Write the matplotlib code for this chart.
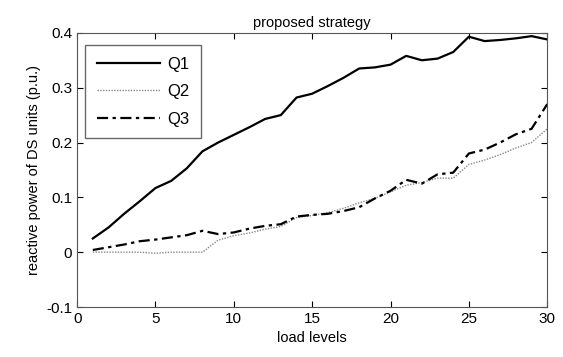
import matplotlib
matplotlib.use("Agg")
import matplotlib.pyplot as plt

plt.rcParams["font.family"] = ["Liberation Sans", "DejaVu Sans"]

load_levels = list(range(1, 31))
q1 = [0.025, 0.045, 0.070, 0.093, 0.117, 0.130, 0.153, 0.184, 0.200, 0.214,
      0.228, 0.243, 0.250, 0.282, 0.289, 0.303, 0.318, 0.335, 0.337, 0.342,
      0.358, 0.350, 0.353, 0.365, 0.393, 0.385, 0.387, 0.390, 0.394, 0.388]
q2 = [0.000, 0.000, 0.000, 0.000, -0.002, 0.000, 0.000, 0.000, 0.022, 0.030,
      0.035, 0.042, 0.047, 0.063, 0.067, 0.072, 0.080, 0.090, 0.098, 0.110,
      0.122, 0.127, 0.135, 0.135, 0.160, 0.168, 0.178, 0.190, 0.200, 0.225]
q3 = [0.004, 0.009, 0.014, 0.020, 0.023, 0.027, 0.031, 0.039, 0.033, 0.036,
      0.043, 0.048, 0.051, 0.065, 0.068, 0.070, 0.075, 0.082, 0.098, 0.112,
      0.132, 0.125, 0.142, 0.145, 0.180, 0.187, 0.200, 0.215, 0.225, 0.270]

fig = plt.figure(figsize=(5.63, 3.57), dpi=100)
ax = fig.add_axes([0.137, 0.14, 0.835, 0.768])

ax.plot(load_levels, q1, color="black", lw=1.6, label="Q1")
ax.plot(load_levels, q2, color="#888888", lw=1.0, linestyle=(0, (1, 1)), label="Q2")
ax.plot(load_levels, q3, color="black", lw=1.6, linestyle=(0, (5, 2, 1.5, 2)), label="Q3")

ax.set_xlim(0, 30)
ax.set_ylim(-0.1, 0.4)
ax.set_xticks([0, 5, 10, 15, 20, 25, 30])
ax.set_yticks([-0.1, 0, 0.1, 0.2, 0.3, 0.4])
ax.set_yticklabels(["-0.1", "0", "0.1", "0.2", "0.3", "0.4"])
ax.tick_params(direction="in", top=True, right=True, labelsize=11, length=4)
for s in ax.spines.values():
    s.set_color("#555555")

ax.set_xlabel("load levels", fontsize=10.5)
ax.set_ylabel("reactive power of DS units (p.u.)", fontsize=10.5)
ax.set_title("proposed strategy", fontsize=10.5, pad=4)

leg = ax.legend(loc="upper left", bbox_to_anchor=(0.017, 0.956), borderaxespad=0,
                fancybox=False, edgecolor="#444444", fontsize=12,
                handlelength=3.8, handletextpad=0.4, borderpad=0.7, labelspacing=0.75)
leg.get_frame().set_linewidth(1.0)

fig.savefig("out.png", dpi=100)
